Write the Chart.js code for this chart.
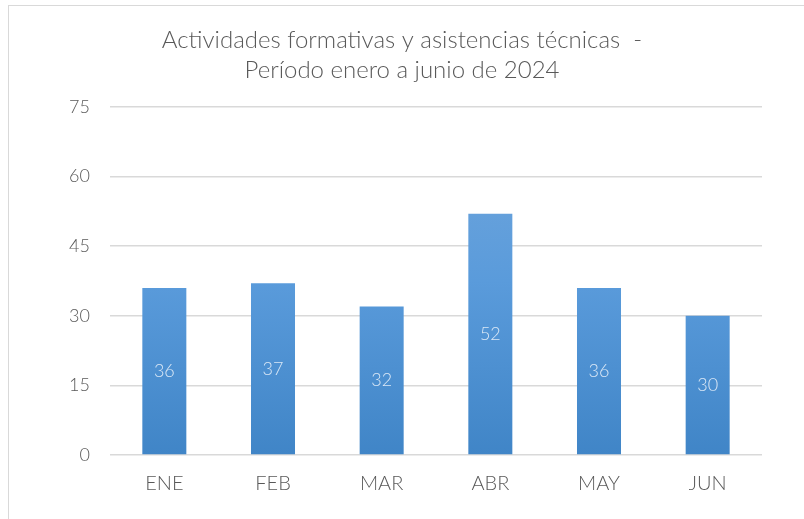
<!DOCTYPE html>
<html><head><meta charset="utf-8">
<script src="https://cdn.jsdelivr.net/npm/chart.js@4/dist/chart.umd.min.js"></script>
<style>
html,body{margin:0;padding:0;background:#fff;}
#wrap{position:absolute;left:0;top:0;width:804px;height:519px;}
#frame{position:absolute;left:8px;top:5px;width:800px;height:520px;border:1px solid #d9d9d9;box-sizing:border-box;pointer-events:none;}
</style></head>
<body>
<div id="wrap"><canvas id="c" width="804" height="519"></canvas></div>
<div id="frame"></div>
<script>
const categories = ["ENE","FEB","MAR","ABR","MAY","JUN"];
const values = [36,37,32,52,36,30];
const yTicks = [0,15,30,45,60,75];
const titleLines = ["Actividades formativas y asistencias técnicas  -","Período enero a junio de 2024"];

const FONT = "Lato, 'Open Sans', sans-serif";
const TXT = "#595959";

const labelPlugin = {
  id:'barLabels',
  afterDatasetsDraw(chart){
    const ctx = chart.ctx;
    const meta = chart.getDatasetMeta(0);
    ctx.save();
    ctx.font = "300 18px " + FONT;
    ctx.fillStyle = "#dbe8f6";
    ctx.textAlign = "center";
    ctx.textBaseline = "middle";
    meta.data.forEach((bar,i)=>{
      const y = (bar.y + bar.base)/2;
      ctx.fillText(String(values[i]), bar.x, y);
    });
    ctx.restore();
  }
};

new Chart(document.getElementById('c'),{
  type:'bar',
  data:{labels:categories,datasets:[{
    data:values,
    backgroundColor(ctx){
      const chart = ctx.chart; const a = chart.chartArea;
      if(!a) return '#5b9bd5';
      const el = ctx.element;
      const top = el && el.y!==undefined ? el.y : a.top;
      const g = chart.ctx.createLinearGradient(0, top, 0, a.bottom);
      g.addColorStop(0,'#74a8dc');
      g.addColorStop(0.5,'#5a9bdb');
      g.addColorStop(1,'#4085c7');
      return g;
    },
    borderWidth:0,
    categoryPercentage:1,
    barPercentage:0.405
  }]},
  options:{
    responsive:false,
    animation:false,
    layout:{padding:{left:0,right:0,top:0,bottom:0}},
    plugins:{
      legend:{display:false},
      tooltip:{enabled:false},
      title:{display:true,text:titleLines,color:TXT,
        font:{family:FONT,size:24,weight:'300',lineHeight:1.25},
        padding:{top:25,bottom:22}}
    },
    scales:{
      x:{
        grid:{display:false,drawTicks:false},
        border:{display:false},
        ticks:{color:TXT,font:{family:FONT,size:20,weight:'300'},padding:17},
        afterFit(s){ s.height = 64; }
      },
      y:{
        min:0,max:75,
        afterBuildTicks(s){ s.ticks = yTicks.map(v=>({value:v})); },
        grid:{color:'#d9d9d9',lineWidth:1.6,drawTicks:false},
        border:{display:false},
        ticks:{color:TXT,font:{family:FONT,size:18,weight:'300'},padding:20},
        afterFit(s){ s.width = 110; }
      },
      yRight:{
        position:'right',
        display:true,
        min:0,max:75,
        grid:{display:false,drawTicks:false},
        border:{display:false},
        ticks:{display:false},
        afterFit(s){ s.width = 42; }
      }
    }
  },
  plugins:[labelPlugin]
});
</script>
</body></html>
